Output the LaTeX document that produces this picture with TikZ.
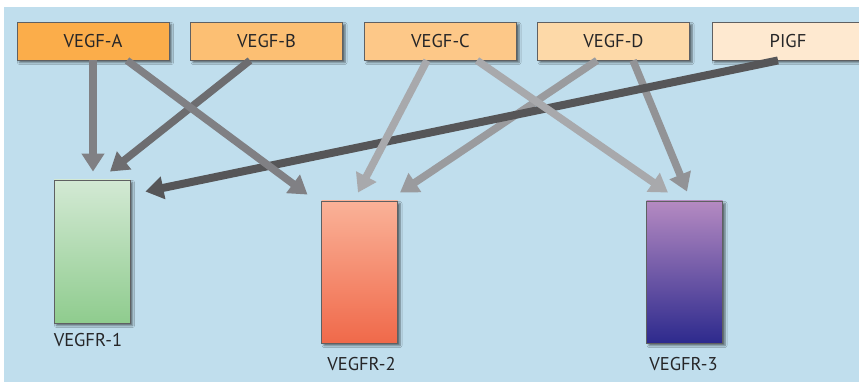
\documentclass[tikz,border=0pt]{standalone}
\usepackage{fontspec}
\setmainfont{PT Sans}
\usetikzlibrary{arrows.meta,calc,shadows.blur}
\definecolor{bg}{HTML}{C0DEED}
\definecolor{cA}{HTML}{FBAD4A}
\definecolor{cB}{HTML}{FCBF73}
\definecolor{cC}{HTML}{FDC888}
\definecolor{cD}{HTML}{FDD9A8}
\definecolor{cP}{HTML}{FEE9D0}
\definecolor{boxline}{HTML}{5F6062}
\definecolor{txt}{HTML}{262628}
\definecolor{arA}{HTML}{808084}
\definecolor{arB}{HTML}{6D6D70}
\definecolor{arC}{HTML}{A8A9AC}
\definecolor{arD}{HTML}{9A9B9E}
\definecolor{arDD}{HTML}{929396}
\definecolor{arP}{HTML}{565658}
\definecolor{gOneT}{HTML}{D3E9D4}
\definecolor{gOneB}{HTML}{8FCC8E}
\definecolor{gTwoT}{HTML}{FAB298}
\definecolor{gTwoB}{HTML}{F0694A}
\definecolor{gThrT}{HTML}{B58AC2}
\definecolor{gThrB}{HTML}{2D2A8D}
\tikzset{
  shd/.style={blur shadow={shadow xshift=2.5pt,shadow yshift=-2.5pt,shadow blur radius=2pt,shadow opacity=55}},
  ligand/.style={draw=boxline,line width=0.9pt,minimum width=152pt,minimum height=38pt,inner sep=0pt,shd,
    font=\fontsize{18.5}{20}\selectfont,text=txt},
  receptor/.style={draw=boxline,line width=0.9pt,minimum width=76pt,minimum height=142pt,inner sep=0pt,shd},
  rlabel/.style={font=\fontsize{18.5}{20}\selectfont,text=txt,inner sep=0pt},
  conn/.style={line width=7.5pt,-{Triangle[length=18pt,width=22pt]}},
}
\begin{document}
\begin{tikzpicture}[x=1pt,y=-1pt]
\clip (0,0) rectangle (859,382);
\fill[white] (0,0) rectangle (859,382);
\fill[bg] (4,7) rectangle (859,382);
% ligands
\node[ligand,fill=cA] (a) at (93,41) {VEGF-A};
\node[ligand,fill=cB] (b) at (266.5,41) {VEGF-B};
\node[ligand,fill=cC] (c) at (440.5,41) {VEGF-C};
\node[ligand,fill=cD] (d) at (613.5,41) {VEGF-D};
\node[ligand,fill=cP] (p) at (788,41) {PIGF};
% receptors
\node[receptor,minimum height=143pt,top color=gOneT,bottom color=gOneB] (r1) at (92,251.5) {};
\node[receptor,top color=gTwoT,bottom color=gTwoB] (r2) at (359.5,272) {};
\node[receptor,top color=gThrT,bottom color=gThrB] (r3) at (684.5,272) {};
\node[rlabel,anchor=west] (l1) at ($(r1.south west)+(0,17)$) {VEGFR-1};
\node[rlabel] (l2) at ($(r2.south)+(2,21)$) {VEGFR-2};
\node[rlabel] (l3) at ($(r3.south)+(-1,21)$) {VEGFR-3};
% connectors
\draw[conn,arD] ($(d.south)+(-16.5,0)$) -- ($(r2.north)+(40.5,-8)$);
\draw[conn,arDD] ($(d.south)+(19.5,0)$) -- ($(r3.north)+(2.5,-9)$);
\draw[conn,arP,line width=8pt] ($(p.south)+(-10,0)$) -- ($(r1.north east)+(15,12)$);
\draw[conn,arC] ($(c.south)+(-13.5,0)$) -- ($(r2.north)+(-1.5,-8)$);
\draw[conn,arC] ($(c.south)+(36.5,0)$) -- ($(r3.north)+(-16.5,-8)$);
\draw[conn,arB] ($(b.south)+(-16.5,0)$) -- ($(r1.north)+(18,-8)$);
\draw[conn,arA] ($(a.south)+(0,0)$) -- ($(r1.north)+(1,-8)$);
\draw[conn,arA] ($(a.south)+(34,0)$) -- ($(r2.north)+(-52,-6)$);
\end{tikzpicture}
\end{document}
